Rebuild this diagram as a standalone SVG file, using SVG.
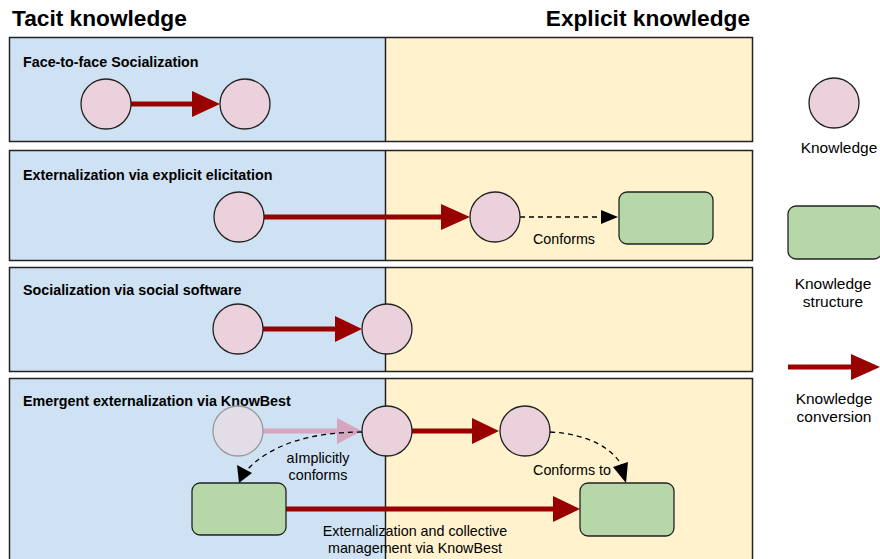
<svg xmlns="http://www.w3.org/2000/svg" width="880" height="559" viewBox="0 0 880 559">
<defs>
<style>
.tacit{fill:#cfe2f3}
.expl{fill:#fff2cc}
.frame{fill:none;stroke:#222;stroke-width:1.5}
.div{stroke:#222;stroke-width:1.5}
.k{fill:#ead1dc;stroke:#222;stroke-width:1.3}
.kf{fill:#e3dde8;stroke:#999;stroke-width:1.3}
.ks{fill:#b6d7a8;stroke:#222;stroke-width:1.3}
.conv{stroke:#990000;stroke-width:5;fill:none}
.convf{stroke:#d5a6bd;stroke-width:5;fill:none}
.dash{stroke:#000;stroke-width:1.3;stroke-dasharray:5,4;fill:none}
.head{fill:#990000}
.headf{fill:#d5a6bd}
.bh{fill:#000}
.h1{font-family:"Liberation Sans",Arial,sans-serif;font-weight:bold;font-size:22.7px;fill:#000}
.h2{font-family:"Liberation Sans",Arial,sans-serif;font-weight:bold;font-size:14.3px;fill:#000}
.t{font-family:"Liberation Sans",Arial,sans-serif;font-size:14.3px;fill:#000;text-anchor:middle}
.lg{font-family:"Liberation Sans",Arial,sans-serif;font-size:15.5px;fill:#000;text-anchor:middle}
</style>
</defs>
<rect width="880" height="559" fill="#fff"/>
<text class="h1" x="12" y="26">Tacit knowledge</text>
<text class="h1" x="750" y="26" text-anchor="end">Explicit knowledge</text>

<g id="panel1">
<rect class="tacit" x="9.5" y="37.5" width="376" height="104"/>
<rect class="expl" x="385.5" y="37.5" width="367" height="104"/>
<rect class="frame" x="9.5" y="37.5" width="743" height="104"/>
<line class="div" x1="385.5" y1="37.5" x2="385.5" y2="141.5"/>
<text class="h2" x="23" y="67">Face-to-face Socialization</text>
</g>
<g id="panel2">
<rect class="tacit" x="9.5" y="150.5" width="376" height="110"/>
<rect class="expl" x="385.5" y="150.5" width="367" height="110"/>
<rect class="frame" x="9.5" y="150.5" width="743" height="110"/>
<line class="div" x1="385.5" y1="150.5" x2="385.5" y2="260.5"/>
<text class="h2" x="23" y="180">Externalization via explicit elicitation</text>
</g>
<g id="panel3">
<rect class="tacit" x="9.5" y="267.5" width="376" height="104"/>
<rect class="expl" x="385.5" y="267.5" width="367" height="104"/>
<rect class="frame" x="9.5" y="267.5" width="743" height="104"/>
<line class="div" x1="385.5" y1="267.5" x2="385.5" y2="371.5"/>
<text class="h2" x="23" y="295">Socialization via social software</text>
</g>
<g id="panel4">
<rect class="tacit" x="9.5" y="378.5" width="376" height="190"/>
<rect class="expl" x="385.5" y="378.5" width="367" height="190"/>
<rect class="frame" x="9.5" y="378.5" width="743" height="190"/>
<line class="div" x1="385.5" y1="378.5" x2="385.5" y2="568.5"/>
<text class="h2" x="23" y="406">Emergent externalization via KnowBest</text>
</g>

<g id="connectors">
<line class="conv" x1="131" y1="104" x2="195" y2="104"/>
<polygon class="head" points="192,91 220,104 192,117"/>

<line class="conv" x1="264" y1="217" x2="444" y2="217"/>
<polygon class="head" points="441,204 470,217 441,230"/>
<line class="dash" x1="520" y1="217" x2="603" y2="217"/>
<polygon class="bh" points="601,210 618,217 601,224"/>

<line class="conv" x1="263" y1="329" x2="338" y2="329"/>
<polygon class="head" points="335,316 362,329 335,342"/>

<line class="convf" x1="263" y1="431" x2="340" y2="431"/>
<polygon class="headf" points="337,418 362,431 337,444"/>
<line class="conv" x1="412" y1="431" x2="475" y2="431"/>
<polygon class="head" points="472,418 499,431 472,444"/>
<path class="dash" d="M362,432 C310,432 270,445 247,470"/>
<polygon class="bh" points="239,483 237,465 252,473"/>
<path class="dash" d="M550,432 C590,434 615,450 623,468"/>
<polygon class="bh" points="626,483 613,467 628,462"/>
<line class="conv" x1="286" y1="509" x2="556" y2="509"/>
<polygon class="head" points="553,496 580,509 553,522"/>
</g>

<g id="labels">
<text class="t" x="564" y="244">Conforms</text>
<text class="t" x="318" y="463">aImplicitly</text>
<text class="t" x="318" y="480">conforms</text>
<text class="t" x="572" y="475">Conforms to</text>
<text class="t" x="415" y="536">Externalization and collective</text>
<text class="t" x="415" y="553">management via KnowBest</text>
</g>

<g id="k1a"><circle class="k" cx="106" cy="104" r="25"/></g>
<g id="k1b"><circle class="k" cx="245" cy="104" r="25"/></g>
<g id="k2a"><circle class="k" cx="239" cy="217" r="25"/></g>
<g id="k2b"><circle class="k" cx="495" cy="217" r="25"/></g>
<g id="s2"><rect class="ks" x="619" y="192" width="94" height="52" rx="8"/></g>
<g id="k3a"><circle class="k" cx="238" cy="329" r="25"/></g>
<g id="k3b"><circle class="k" cx="387" cy="329" r="25"/></g>
<g id="k4a"><circle class="kf" cx="238" cy="431" r="25"/></g>
<g id="k4b"><circle class="k" cx="387" cy="431" r="25"/></g>
<g id="k4c"><circle class="k" cx="525" cy="431" r="25"/></g>
<g id="s4a"><rect class="ks" x="192" y="483" width="94" height="52" rx="8"/></g>
<g id="s4b"><rect class="ks" x="580" y="483" width="94" height="53" rx="8"/></g>

<g id="legend-knowledge">
<circle class="k" cx="834" cy="103" r="25"/>
<text class="lg" x="839" y="153">Knowledge</text>
</g>
<g id="legend-structure">
<rect class="ks" x="788" y="206" width="94" height="53" rx="8"/>
<text class="lg" x="833" y="289">Knowledge</text>
<text class="lg" x="833" y="307">structure</text>
</g>
<g id="legend-conversion">
<line x1="788" y1="367" x2="854" y2="367" stroke="#990000" stroke-width="5"/>
<polygon class="head" points="851,354 880,367 851,380"/>
<text class="lg" x="834" y="404">Knowledge</text>
<text class="lg" x="834" y="422">conversion</text>
</g>
</svg>
